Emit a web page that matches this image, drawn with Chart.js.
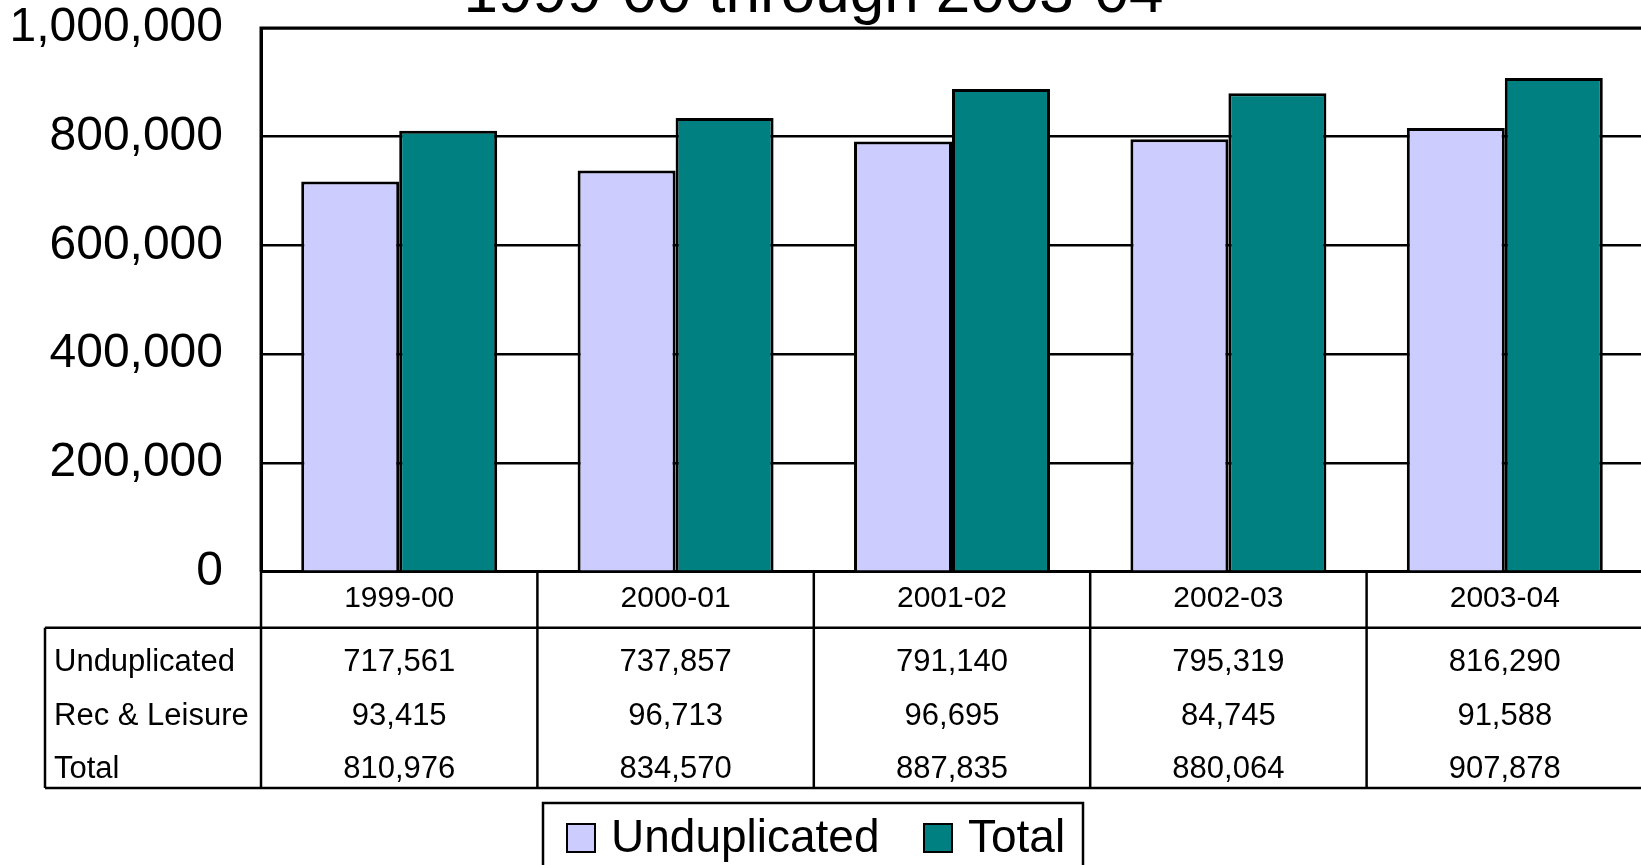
<!DOCTYPE html>
<html><head><meta charset="utf-8">
<script src="https://cdn.jsdelivr.net/npm/chart.js@4/dist/chart.umd.min.js"></script>
<style>
html,body{margin:0;padding:0;overflow:hidden;background:#fff;width:1641px;height:865px}
#wrap{position:absolute;left:0;top:0;width:1700px;height:865px}
</style>
</head><body><div id="wrap"><canvas id="c" width="1700" height="865"></canvas></div>
<script>
const categories = ['1999-00','2000-01','2001-02','2002-03','2003-04'];
const unduplicated = [717561,737857,791140,795319,816290];
const recLeisure = [93415,96713,96695,84745,91588];
const total = [810976,834570,887835,880064,907878];
const yTicks = [0,200000,400000,600000,800000,1000000];
const titleText = '1999-00 through 2003-04';
const rowLabels = ['Unduplicated','Rec & Leisure','Total'];
const rowValues = [unduplicated, recLeisure, total];
const seriesNames = ['Unduplicated','Total'];
const colors = ['#CCCCFF','#008080'];

const FONT = '"Liberation Sans", Arial, sans-serif';
const fmt = v => Number(v).toLocaleString('en-US');

const titlePlugin = {
  id:'partTitle',
  afterDraw(chart){
    const ctx = chart.ctx;
    ctx.save();
    ctx.fillStyle = '#000';
    ctx.font = '62px ' + FONT;
    ctx.textAlign = 'center';
    ctx.textBaseline = 'alphabetic';
    ctx.fillText(titleText, 813.5, 12);
    ctx.restore();
  }
};

const framePlugin = {
  id:'frame',
  afterDraw(chart){
    const ctx = chart.ctx, a = chart.chartArea;
    ctx.save();
    ctx.strokeStyle = '#000';
    ctx.lineWidth = 3;
    ctx.beginPath();
    ctx.moveTo(a.left, a.bottom);
    ctx.lineTo(a.left, a.top);
    ctx.lineTo(a.right, a.top);
    ctx.lineTo(a.right, a.bottom);
    ctx.stroke();
    ctx.restore();
  }
};

const tablePlugin = {
  id:'dataTable',
  afterDraw(chart){
    const ctx = chart.ctx, a = chart.chartArea, xs = chart.scales.x;
    const n = categories.length;
    const catW = (a.right - a.left) / n;
    const headBottom = 627.7, tableBottom = 788, tableLeft = 45;
    ctx.save();
    ctx.strokeStyle = '#000';
    ctx.lineWidth = 2.5;
    const line = (x1,y1,x2,y2)=>{ctx.beginPath();ctx.moveTo(x1,y1);ctx.lineTo(x2,y2);ctx.stroke();};
    for (let i=0;i<=n;i++){
      const px = (i<n ? xs.getPixelForValue(i) - catW/2 : xs.getPixelForValue(n-1) + catW/2);
      line(px, a.bottom, px, tableBottom);
    }
    line(tableLeft, headBottom, a.right, headBottom);
    line(tableLeft, tableBottom, a.right, tableBottom);
    line(tableLeft, headBottom, tableLeft, tableBottom);
    ctx.fillStyle = '#000';
    ctx.font = '31px ' + FONT;
    ctx.textBaseline = 'alphabetic';
    const baselines = [671, 725, 778];
    rowLabels.forEach((lab, r)=>{
      ctx.textAlign = 'left';
      ctx.fillText(lab, 54, baselines[r]);
      ctx.textAlign = 'center';
      rowValues[r].forEach((v, i)=>{
        ctx.fillText(fmt(v), xs.getPixelForValue(i), baselines[r]);
      });
    });
    ctx.restore();
  }
};

const legendPlugin = {
  id:'boxLegend',
  afterDraw(chart){
    const ctx = chart.ctx;
    ctx.save();
    ctx.strokeStyle = '#000';
    ctx.lineWidth = 2.5;
    ctx.strokeRect(543, 803, 540, 80);
    const boxX = [567, 924], textX = [611, 968];
    ctx.font = '46px ' + FONT;
    ctx.textBaseline = 'middle';
    ctx.textAlign = 'left';
    chart.data.datasets.forEach((ds, i)=>{
      ctx.fillStyle = ds.backgroundColor;
      ctx.fillRect(boxX[i], 824, 28, 28);
      ctx.lineWidth = 2;
      ctx.strokeRect(boxX[i], 824, 28, 28);
      ctx.fillStyle = '#000';
      ctx.fillText(ds.label, textX[i], 839);
    });
    ctx.restore();
  }
};

new Chart(document.getElementById('c'), {
  type:'bar',
  data:{
    labels: categories,
    datasets:[
      {label: seriesNames[0], data: unduplicated, backgroundColor: colors[0], borderColor:'#000', borderWidth:3, categoryPercentage:0.709, barPercentage:1},
      {label: seriesNames[1], data: total, backgroundColor: colors[1], borderColor:'#000', borderWidth:3, categoryPercentage:0.709, barPercentage:1}
    ]
  },
  options:{
    responsive:false,
    devicePixelRatio:1,
    animation:false,
    layout:{padding:{left:0, top:28, right:57, bottom:0}},
    plugins:{legend:{display:false}, title:{display:false}, tooltip:{enabled:false}},
    scales:{
      x:{
        grid:{display:false, drawTicks:false},
        border:{display:true, color:'#000', width:3},
        ticks:{color:'#000', font:{family:FONT, size:30, lineHeight:1.2}, padding:9, maxRotation:0, autoSkip:false},
        afterFit(scale){ scale.height = 865 - 571.7; scale.paddingLeft = 0; scale.paddingRight = 0; }
      },
      y:{
        z:1,
        min:0, max:1000000,
        grid:{color:'#000', lineWidth:2.5, drawTicks:false},
        border:{display:true, color:'#000', width:3},
        ticks:{color:'#000', font:{family:FONT, size:48, lineHeight:1}, padding:38, callback:v=>fmt(v)},
        afterBuildTicks(scale){ scale.ticks = yTicks.map(v=>({value:v})); },
        afterFit(scale){ scale.width = 261; scale.paddingTop = 0; scale.paddingBottom = 0; }
      }
    }
  },
  plugins:[titlePlugin, framePlugin, tablePlugin, legendPlugin]
});
</script>
</body></html>
